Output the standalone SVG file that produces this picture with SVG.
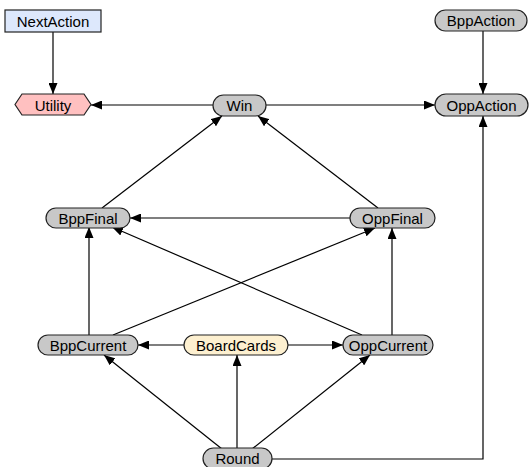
<svg xmlns="http://www.w3.org/2000/svg" width="529" height="467" viewBox="0 0 529 467">
<style>
text{font-family:"Liberation Sans",Arial,sans-serif;font-size:15px;fill:#000;text-anchor:middle;dominant-baseline:central}
.n{fill:#c8c8c8;stroke:#222;stroke-width:1.2}
.e{stroke:#000;stroke-width:1.2;fill:none;marker-end:url(#ah)}
</style>
<defs>
<marker id="ah" markerWidth="11" markerHeight="9" refX="11" refY="4.5" orient="auto" markerUnits="userSpaceOnUse">
<path d="M0,0 L11,4.5 L0,9 Z" fill="#000"/>
</marker>
</defs>
<rect width="529" height="467" fill="#fff"/>
<g id="connectors">
<path class="e" d="M53,32 V94"/>
<path class="e" d="M213,105 H91"/>
<path class="e" d="M266,105 H435"/>
<path class="e" d="M483,31 V94"/>
<path class="e" d="M272,459 H483 V116"/>
<path class="e" d="M102,208 L222,116"/>
<path class="e" d="M378,208 L258,116"/>
<path class="e" d="M350,218 H130"/>
<path class="e" d="M89,335 V227"/>
<path class="e" d="M392,335 V228"/>
<path class="e" d="M113,335 L375,228"/>
<path class="e" d="M362,335 L112,227"/>
<path class="e" d="M184,345 H138"/>
<path class="e" d="M288,345 H343"/>
<path class="e" d="M222,449 L104,355"/>
<path class="e" d="M237,448 V355"/>
<path class="e" d="M252,449 L370,355"/>
</g>
<g id="NextAction"><rect x="5" y="10" width="96" height="22" fill="#dde8fc" stroke="#222" stroke-width="1.2"/><text x="53" y="21">NextAction</text></g>
<g id="Utility"><polygon points="15,104.5 22,94 84,94 91,104.5 84,115 22,115" fill="#ffc0c0" stroke="#222" stroke-width="1.2"/><text x="53" y="105">Utility</text></g>
<g id="Win"><rect class="n" x="213" y="95" width="53" height="21" rx="10.5"/><text x="239.5" y="105.5">Win</text></g>
<g id="BppAction"><rect class="n" x="435" y="10" width="92" height="21" rx="10.5"/><text x="481" y="20.5">BppAction</text></g>
<g id="OppAction"><rect class="n" x="435" y="94" width="93" height="22" rx="11"/><text x="481.5" y="105">OppAction</text></g>
<g id="BppFinal"><rect class="n" x="46" y="208" width="84" height="20" rx="10"/><text x="88" y="218">BppFinal</text></g>
<g id="OppFinal"><rect class="n" x="350" y="208" width="85" height="20" rx="10"/><text x="392.5" y="218">OppFinal</text></g>
<g id="BppCurrent"><rect class="n" x="38" y="335" width="100" height="20" rx="10"/><text x="88" y="345">BppCurrent</text></g>
<g id="BoardCards"><rect x="184" y="335" width="104" height="20" rx="10" fill="#fdf0d0" stroke="#222" stroke-width="1.2"/><text x="236" y="345">BoardCards</text></g>
<g id="OppCurrent"><rect class="n" x="343" y="335" width="90" height="20" rx="10"/><text x="388" y="345">OppCurrent</text></g>
<g id="Round"><rect class="n" x="203" y="448" width="69" height="21" rx="10.5"/><text x="237.5" y="458.5">Round</text></g>
</svg>
